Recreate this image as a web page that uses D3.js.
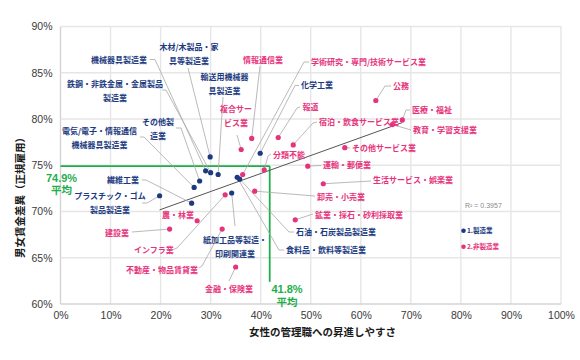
<!DOCTYPE html>
<html><head><meta charset="utf-8">
<script src="https://cdn.jsdelivr.net/npm/d3@7"></script>
<style>body{margin:0;background:#fff}svg{display:block}</style>
</head><body>
<svg id="c" width="580" height="360"></svg>
<script>
// ---- data ----
const mfgNames = ["木材/木製品・家具等製造業","機械器具製造業","輸送用機械器具製造業","鉄鋼・非鉄金属・金属製品製造業","その他製造業","電気/電子・情報通信機械器具製造業","化学工業","繊維工業","プラスチック・ゴム製品製造業","紙加工品等製造・印刷関連業","石油・石炭製品製造業","食料品・飲料等製造業"];
const mfgX = [29.9, 29.0, 31.5, 30.0, 27.8, 26.7, 39.9, 26.2, 19.8, 34.2, 35.8, 35.3];
const mfgY = [75.9, 74.4, 74.0, 74.2, 73.3, 72.6, 76.3, 70.9, 71.7, 72.0, 73.5, 73.7];
const nonNames = ["公務","医療・福祉","教育・学習支援業","情報通信業","学術研究・専門/技術サービス業","報道","宿泊・飲食サービス業","複合サービス業","分類不能","その他サービス業","運輸・郵便業","生活サービス・娯楽業","卸売・小売業","鉱業・採石・砂利採取業","農・林業","建設業","インフラ業","不動産・物品賃貸業","金融・保険業"];
const nonX = [63.0, 68.3, 66.3, 38.2, 36.4, 43.5, 46.5, 36.1, 40.7, 56.8, 49.4, 52.5, 38.8, 46.9, 27.3, 21.8, 32.9, 32.3, 35.0];
const nonY = [82.0, 79.9, 79.4, 77.9, 74.0, 78.0, 77.2, 76.7, 74.5, 76.9, 74.9, 73.0, 72.2, 69.1, 69.0, 68.1, 71.8, 68.1, 64.0];
const xTicks = [0,10,20,30,40,50,60,70,80,90,100];
const yTicks = [60,65,70,75,80,85,90];
const avgX = 41.8, avgY = 74.9;
const seriesNames = ["1.製造業","2.非製造業"];
const r2Label = "R² = 0.3957";
const xTitle = "女性の管理職への昇進しやすさ";
const yTitle = "男女賃金差異（正規雇用）";

// ---- label layout (annotation placement, px) ----
const mfgLayout = [
  {lines:["木材/木製品・家","具等製造業"], x:189, y:50, a:"middle", lead:[[188,68]]},
  {lines:["機械器具製造業"], x:119, y:63, a:"middle", lead:[[150,59.5],[155,59.5]]},
  {lines:["輸送用機械器","具製造業"], x:224.5, y:80, a:"middle", lead:[[223,97]]},
  {lines:["鉄鋼・非鉄金属・金属製品","製造業"], x:115, y:87, a:"middle", lead:[[162,90],[166,90]]},
  {lines:["その他製","造業"], x:158, y:125, a:"middle", lead:[[176,128],[181,128]]},
  {lines:["電気/電子・情報通信","機械器具製造業"], x:99.5, y:134, a:"middle", lead:[[140,137],[144,137]]},
  {lines:["化学工業"], x:301, y:88, a:"start", lead:[[299,85.5],[295,85.5]]},
  {lines:["繊維工業"], x:123, y:182.5, a:"middle", lead:[[142,180],[146,180]]},
  {lines:["プラスチック・ゴム","製品製造業"], x:110, y:199, a:"middle", lead:[[142,203],[147,203]]},
  {lines:["紙加工品等製造・","印刷関連業"], x:235, y:243, a:"middle", lead:[[235,226]]},
  {lines:["石油・石炭製品製造業"], x:296, y:235, a:"start", lead:[[294,232],[289,232]]},
  {lines:["食料品・飲料等製造業"], x:286, y:253, a:"start", lead:[[284,250],[279,250]]}
];
const nonLayout = [
  {lines:["公務"], x:393, y:89, a:"start", lead:[[391,86],[385,86]]},
  {lines:["医療・福祉"], x:412, y:113, a:"start", lead:[[410,110],[406,110]]},
  {lines:["教育・学習支援業"], x:413, y:133, a:"start", lead:[[411,130]]},
  {lines:["情報通信業"], x:263, y:62.5, a:"middle", lead:[[260,66]]},
  {lines:["学術研究・専門/技術サービス業"], x:311, y:65, a:"start", lead:[[309,62],[304,62]]},
  {lines:["報道"], x:302.5, y:110, a:"start", lead:[[300,107],[297,108]]},
  {lines:["宿泊・飲食サービス業"], x:319, y:125, a:"start", lead:[[317,122],[313,123]]},
  {lines:["複合サー","ビス業"], x:236, y:111.5, a:"middle", lead:[[237,135]]},
  {lines:["分類不能"], x:273, y:157.5, a:"start", lead:[[271,154],[268,156]]},
  {lines:["その他サービス業"], x:352, y:151, a:"start", lead:[[350,148]]},
  {lines:["運輸・郵便業"], x:323, y:168, a:"start", lead:[[321,165.5]]},
  {lines:["生活サービス・娯楽業"], x:373, y:183, a:"start", lead:[[371,181]]},
  {lines:["卸売・小売業"], x:317, y:199.5, a:"start", lead:[[315,196]]},
  {lines:["鉱業・採石・砂利採取業"], x:315, y:218, a:"start", lead:[[313,214]]},
  {lines:["農・林業"], x:178, y:218, a:"middle", lead:[]},
  {lines:["建設業"], x:117, y:235.5, a:"middle", lead:[[132,232]]},
  {lines:["インフラ業"], x:154, y:253, a:"middle", lead:[[172,250],[177,248]]},
  {lines:["不動産・物品賃貸業"], x:162, y:272.5, a:"middle", lead:[[199,268],[202,266]]},
  {lines:["金融・保険業"], x:229, y:291.5, a:"middle", lead:[[229,281]]}
];

const BLUE = "#1b3a80", PINK = "#e6347c", GREEN = "#1fae4b";
const JP = "'Noto Sans CJK JP','Noto Sans',sans-serif";
const LAT = "'Liberation Sans',Arial,sans-serif";

const svg = d3.select("#c");
const x = d3.scaleLinear().domain([0,100]).range([60.5,561]);
const y = d3.scaleLinear().domain([60,90]).range([304,26.5]);

// grid
const g = svg.append("g");
g.selectAll(".vg").data(xTicks).join("line")
  .attr("x1",d=>x(d)).attr("x2",d=>x(d)).attr("y1",y(60)).attr("y2",y(90))
  .attr("stroke",d=>d===0?"#d4d4d4":"#e6e6e6").attr("stroke-width",1.4);
g.selectAll(".hg").data(yTicks).join("line")
  .attr("x1",x(0)).attr("x2",x(100)).attr("y1",d=>y(d)).attr("y2",d=>y(d))
  .attr("stroke",d=>d===60?"#d4d4d4":"#e6e6e6").attr("stroke-width",1.4);

// axes tick labels via d3 axes
const xa = svg.append("g").attr("transform",`translate(0,${y(60)})`)
  .call(d3.axisBottom(x).tickValues(xTicks).tickFormat(d=>d+"%").tickSize(0).tickPadding(8));
const ya = svg.append("g").attr("transform",`translate(${x(0)},0)`)
  .call(d3.axisLeft(y).tickValues(yTicks).tickFormat(d=>d+"%").tickSize(0).tickPadding(8));
[xa,ya].forEach(a=>{
  a.select(".domain").remove();
  a.selectAll("text").attr("font-family",LAT).attr("font-size",10.5).attr("fill","#3a3a3a");
});

// axis titles
svg.append("text").attr("x",322.5).attr("y",335.5).attr("text-anchor","middle")
  .attr("font-family",JP).attr("font-weight","bold").attr("font-size",10.5).attr("fill","#1a1a1a").text(xTitle);
svg.append("text").attr("transform","translate(24,195) rotate(-90)").attr("text-anchor","middle")
  .attr("font-family",JP).attr("font-weight","bold").attr("font-size",10.5).attr("fill","#1a1a1a").text(yTitle);

// average lines
svg.append("line").attr("x1",x(0)).attr("x2",x(avgX)).attr("y1",y(avgY)).attr("y2",y(avgY))
  .attr("stroke",GREEN).attr("stroke-width",1.8);
svg.append("line").attr("x1",x(avgX)).attr("x2",x(avgX)).attr("y1",y(avgY)).attr("y2",y(62.4))
  .attr("stroke",GREEN).attr("stroke-width",1.8);
const avgLab = (tx,ty,t1,t2)=>{
  svg.append("text").attr("x",tx).attr("y",ty).attr("text-anchor","middle").attr("font-family",LAT)
    .attr("font-weight","bold").attr("font-size",11).attr("fill",GREEN).text(t1);
  svg.append("text").attr("x",tx).attr("y",ty+12.5).attr("text-anchor","middle").attr("font-family",JP)
    .attr("font-weight","bold").attr("font-size",10.5).attr("fill",GREEN).text(t2);
};
avgLab(61.5,181.5,avgY+"%","平均");
avgLab(287,293,avgX+"%","平均");

// trend line (least squares over all points)
const allX = mfgX.concat(nonX), allY = mfgY.concat(nonY);
const mx = d3.mean(allX), my = d3.mean(allY);
const slope = d3.sum(allX,(v,i)=>(v-mx)*(allY[i]-my))/d3.sum(allX,v=>(v-mx)*(v-mx));
const icpt = my - slope*mx;
const [x0,x1] = d3.extent(allX);
svg.append("line").attr("x1",x(x0)).attr("x2",x(x1)).attr("y1",y(icpt+slope*x0)).attr("y2",y(icpt+slope*x1))
  .attr("stroke","#555").attr("stroke-width",1);

// leaders + labels
function drawSeries(names,xs,ys,layout,color){
  const lg = svg.append("g");
  names.forEach((n,i)=>{
    const L = layout[i];
    if (L.lead.length){
      const pts = L.lead.concat([[x(xs[i]),y(ys[i])]]);
      lg.append("path").attr("d",d3.line()(pts)).attr("fill","none")
        .attr("stroke","#a8a8a8").attr("stroke-width",0.8);
    }
    const t = lg.append("text").attr("text-anchor",L.a).attr("font-family",JP)
      .attr("font-weight","bold").attr("font-size",8).attr("fill",color);
    L.lines.forEach((s,k)=>t.append("tspan").attr("x",L.x).attr("y",L.y+k*14).text(s));
  });
}
drawSeries(mfgNames,mfgX,mfgY,mfgLayout,BLUE);
drawSeries(nonNames,nonX,nonY,nonLayout,PINK);

// points
svg.append("g").selectAll("circle").data(mfgX.map((v,i)=>[v,mfgY[i]])).join("circle")
  .attr("cx",d=>x(d[0])).attr("cy",d=>y(d[1])).attr("r",2.6).attr("fill",BLUE);
svg.append("g").selectAll("circle").data(nonX.map((v,i)=>[v,nonY[i]])).join("circle")
  .attr("cx",d=>x(d[0])).attr("cy",d=>y(d[1])).attr("r",2.6).attr("fill",PINK);

// R2 label + legend
svg.append("text").attr("x",465).attr("y",208).attr("font-family",LAT).attr("font-size",7)
  .attr("fill","#8a8a8a").text(r2Label);
[BLUE,PINK].forEach((c,i)=>{
  svg.append("circle").attr("cx",463.5).attr("cy",230.7+i*16).attr("r",2.3).attr("fill",c);
  svg.append("text").attr("x",467).attr("y",233+i*16).attr("font-family",JP).attr("font-weight","bold")
    .attr("font-size",6.5).attr("fill",c).text(seriesNames[i]);
});
</script>
</body></html>
